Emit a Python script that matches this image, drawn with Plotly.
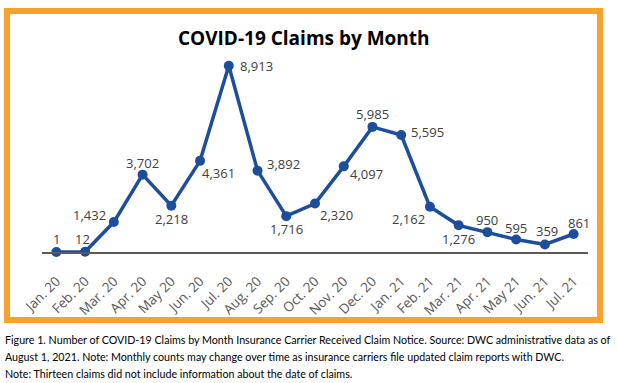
import plotly.graph_objects as go

months = ["Jan. 20", "Feb. 20", "Mar. 20", "Apr. 20", "May 20", "Jun. 20", "Jul. 20",
          "Aug. 20", "Sep. 20", "Oct. 20", "Nov. 20", "Dec. 20", "Jan. 21", "Feb. 21",
          "Mar. 21", "Apr. 21", "May 21", "Jun. 21", "Jul. 21"]
claims = [1, 12, 1432, 3702, 2218, 4361, 8913, 3892, 1716, 2320, 4097, 5985, 5595,
          2162, 1276, 950, 595, 359, 861]

title_text = "COVID-19 Claims by Month"
caption_lines = [
    "Figure 1. Number of COVID-19 Claims by Month Insurance Carrier Received Claim Notice. Source: DWC administrative data as of",
    "August 1, 2021. Note: Monthly counts may change over time as insurance carriers file updated claim reports with DWC.",
    "Note: Thirteen claims did not include information about the date of claims.",
]

# label placement (anchor, xshift, yshift) per point
label_pos = [
    ("center", 0, 13), ("center", -3, 13), ("right", -6, 7), ("center", 0, 12),
    ("center", 0, -13), ("left", 0, -12), ("left", 9, 0), ("left", 7, 7),
    ("center", 0, -13), ("left", 3, -11), ("left", 4, -8), ("center", 0, 13),
    ("left", 8, 3), ("right", -3, -12), ("center", 0, -14), ("center", 0, 12),
    ("center", 0, 12), ("center", 2, 14), ("center", 5, 11),
]

W, H = 618, 383
L, R, T, B = 42, 30, 43, 131
PW, PH = W - L - R, H - T - B

def px(x):
    return (x - L) / PW

def py(y):
    return (H - B - y) / PH

BLUE = "#1D4E9B"
ORANGE = "#F9A12C"
LABEL = "#404040"

fig = go.Figure()
fig.add_trace(go.Scatter(
    x=months, y=claims, mode="lines+markers",
    line=dict(color=BLUE, width=3.5),
    marker=dict(color=BLUE, size=10),
    cliponaxis=False, hoverinfo="skip", showlegend=False,
))

annotations = []
for m, v, (anc, xs, ys) in zip(months, claims, label_pos):
    annotations.append(dict(
        x=m, y=v, xref="x", yref="y", text=f"{v:,}", showarrow=False,
        xanchor=anc, yanchor="middle", xshift=xs, yshift=ys,
        font=dict(family="Open Sans", size=13, color=LABEL),
    ))

annotations.append(dict(
    x=px(304), y=py(38), xref="paper", yref="paper", text=title_text,
    showarrow=False, xanchor="center", yanchor="middle",
    font=dict(family="Open Sans", size=19, color="#000000", weight="bold"),
))

for i, line in enumerate(caption_lines):
    annotations.append(dict(
        x=px(3), y=py(339 + 17 * i), xref="paper", yref="paper", text=line,
        showarrow=False, xanchor="left", yanchor="middle",
        font=dict(family="Lato", size=10.7, color="#000000"),
    ))

shapes = [dict(
    type="rect", xref="paper", yref="paper",
    x0=px(7), x1=px(600), y0=py(320), y1=py(11),
    line=dict(color=ORANGE, width=6), fillcolor="rgba(0,0,0,0)", layer="below",
)]

fig.update_layout(
    width=W, height=H,
    margin=dict(l=L, r=R, t=T, b=B),
    paper_bgcolor="white", plot_bgcolor="white",
    annotations=annotations, shapes=shapes,
    xaxis=dict(
        type="category", range=[-0.5, len(months) - 0.5],
        showline=True, linecolor="#5A5A5A", linewidth=2,
        showgrid=False, zeroline=False, ticks="", tickangle=-45,
        ticklabelstandoff=14,
        tickfont=dict(family="Open Sans", size=13.5, color="#595959"),
        fixedrange=True,
    ),
    yaxis=dict(
        range=[0, 10000], visible=False, showgrid=False, zeroline=False,
        fixedrange=True,
    ),
)

fig.write_html(
    "out.html",
    config={"displayModeBar": False},
    post_script="document.body.style.margin='0';document.body.style.overflow='hidden';",
)
